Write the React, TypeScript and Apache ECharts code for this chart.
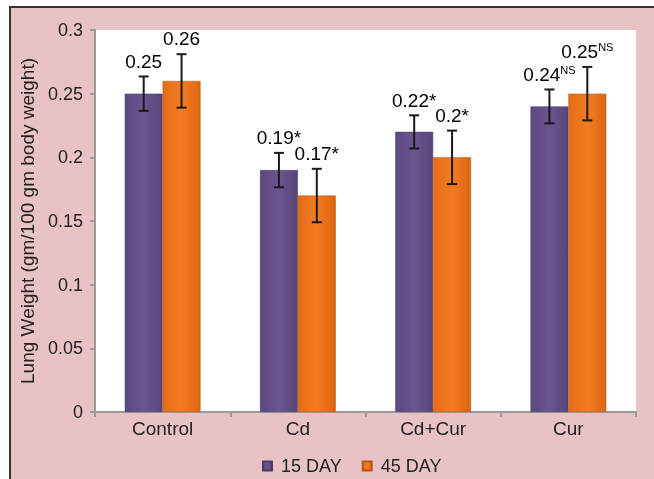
import React, { useEffect, useRef } from "react";
import * as echarts from "echarts";

const categories = ["Control", "Cd", "Cd+Cur", "Cur"];
const day15 = [0.25, 0.19, 0.22, 0.24];
const day45 = [0.26, 0.17, 0.2, 0.25];
const err15 = [0.0135, 0.0135, 0.013, 0.0133];
const err45 = [0.021, 0.021, 0.021, 0.021];
const sig15 = ["", "*", "*", "NS"];
const sig45 = ["", "*", "*", "NS"];
const yTicks = [0, 0.05, 0.1, 0.15, 0.2, 0.25, 0.3];
const seriesNames = ["15 DAY", "45 DAY"];

const FONT = "Liberation Sans, Arial, sans-serif";

export default function App() {
  const ref = useRef<HTMLDivElement>(null);
  useEffect(() => {
    document.body.style.margin = "0";
    const chart = echarts.init(ref.current!, null, { renderer: "svg" });
    const purple = new echarts.graphic.LinearGradient(0, 0, 1, 0, [
      { offset: 0, color: "#5b4881" },
      { offset: 0.5, color: "#6a5690" },
      { offset: 1, color: "#574479" },
    ]);
    const orange = new echarts.graphic.LinearGradient(0, 0, 1, 0, [
      { offset: 0, color: "#e56c16" },
      { offset: 0.5, color: "#f47b22" },
      { offset: 1, color: "#dc6512" },
    ]);
    const rich = {
      v: { fontSize: 19, lineHeight: 20, color: "#222", fontFamily: FONT },
      s: { fontSize: 11, lineHeight: 20, color: "#222", fontFamily: FONT, verticalAlign: "top" },
    };
    const labelText = (v: number, s: string) =>
      s === "NS" ? `{v|${v}}{s|NS}` : `{v|${v}${s}}`;
    const errSeries = (
      name: string,
      vals: number[],
      errs: number[],
      sig: string[],
      side: number,
      lift: number
    ) => ({
      type: "custom",
      name,
      z: 5,
      silent: true,
      data: vals.map((v, i) => [i, v, errs[i]]),
      renderItem: (params: any, api: any) => {
        const i = params.dataIndex;
        const idx = api.value(0);
        const v = api.value(1);
        const e = api.value(2);
        const band = api.size([1, 0])[0];
        const off = band * 0.14 * side;
        const top = api.coord([idx, v + e]);
        const bot = api.coord([idx, v - e]);
        const x = top[0] + off;
        const cap = 5;
        const st = { stroke: "#1a1a1a", lineWidth: 2 };
        return {
          type: "group",
          children: [
            { type: "line", shape: { x1: x, y1: top[1], x2: x, y2: bot[1] }, style: st },
            { type: "line", shape: { x1: x - cap, y1: top[1], x2: x + cap, y2: top[1] }, style: st },
            { type: "line", shape: { x1: x - cap, y1: bot[1], x2: x + cap, y2: bot[1] }, style: st },
            {
              type: "text",
              x: x,
              y: top[1] - lift,
              style: {
                text: labelText(vals[i], sig[i]),
                rich,
                align: "center",
                verticalAlign: "middle",
              },
            },
          ],
        };
      },
    });
    chart.setOption({
      animation: false,
      backgroundColor: "transparent",
      graphic: [
        {
          type: "rect",
          z: -10,
          shape: { x: 10, y: 7, width: 700, height: 500 },
          style: { fill: "#e9c2c5", stroke: "#333", lineWidth: 2 },
        },
      ],
      grid: {
        left: 95,
        top: 30,
        right: 18,
        bottom: 67,
        show: true,
        backgroundColor: "#ffffff",
        borderWidth: 0,
      },
      legend: {
        top: 456,
        left: 262,
        data: seriesNames,
        icon: "rect",
        itemWidth: 9,
        itemHeight: 9,
        itemGap: 20,
        padding: 0,
        textStyle: { fontSize: 18, lineHeight: 20, color: "#222", fontFamily: FONT, padding: [0, 0, 0, 4] },
      },
      xAxis: {
        type: "category",
        data: categories,
        axisLine: { lineStyle: { color: "#9a9a9a", width: 2 } },
        axisTick: { show: true, length: 5, lineStyle: { color: "#9a9a9a", width: 2 } },
        axisLabel: { fontSize: 19, color: "#222", fontFamily: FONT, margin: 7 },
      },
      yAxis: {
        type: "value",
        min: 0,
        max: 0.3,
        interval: 0.05,
        name: "Lung Weight (gm/100 gm body weight)",
        nameLocation: "middle",
        nameGap: 57,
        nameTextStyle: { fontSize: 19, color: "#222", fontFamily: FONT },
        axisLine: { show: true, lineStyle: { color: "#9a9a9a", width: 2 } },
        axisTick: { show: true, length: 5, lineStyle: { color: "#9a9a9a", width: 2 } },
        splitLine: { show: false },
        axisLabel: {
          fontSize: 18,
          color: "#222",
          fontFamily: FONT,
          margin: 12,
          formatter: (v: number) => {
            const t = yTicks.find((k) => Math.abs(k - v) < 1e-9);
            return String(t !== undefined ? t : v);
          },
        },
      },
      series: [
        {
          name: seriesNames[0],
          type: "bar",
          data: day15,
          barWidth: "28%",
          barGap: "0%",
          itemStyle: { color: purple, borderColor: "#4a3a6a", borderWidth: 0.5 },
        },
        {
          name: seriesNames[1],
          type: "bar",
          data: day45,
          barWidth: "28%",
          barGap: "0%",
          itemStyle: { color: orange, borderColor: "#b8560e", borderWidth: 0.5 },
        },
        errSeries("err15", day15, err15, sig15, -1, 15),
        errSeries("err45", day45, err45, sig45, 1, 15.5),
      ],
    });
    return () => chart.dispose();
  }, []);
  return (
    <div
      ref={ref}
      style={{ position: "fixed", left: 0, top: 0, width: 654, height: 479 }}
    />
  );
}
